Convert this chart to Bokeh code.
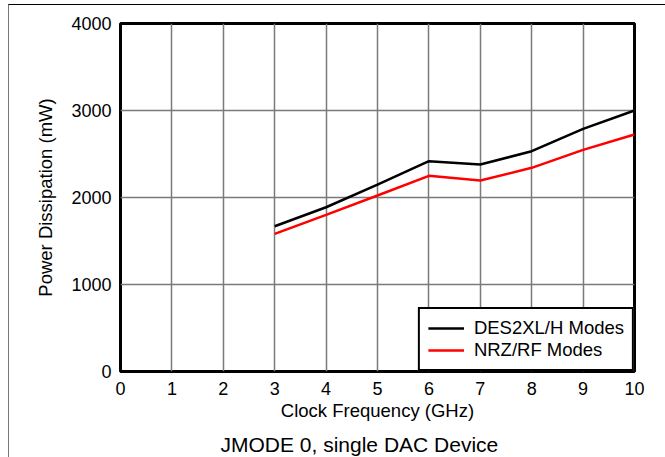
from bokeh.plotting import figure
from bokeh.models import Range1d, FixedTicker, Legend, LegendItem
from bokeh.embed import file_html
from bokeh.resources import INLINE

# Data
freq_ghz = [3, 4, 5, 6, 7, 8, 9, 10]
des2xl_h_mw = [1670, 1888, 2149, 2417, 2379, 2532, 2789, 3000]
nrz_rf_mw = [1582, 1801, 2023, 2249, 2195, 2341, 2548, 2724]
x_ticks = [0, 1, 2, 3, 4, 5, 6, 7, 8, 9, 10]
y_ticks = [0, 1000, 2000, 3000, 4000]

FONT = "Liberation Sans"

p = figure(
    width=656, height=452,
    frame_width=514, frame_height=348,
    x_range=Range1d(0, 10), y_range=Range1d(0, 4000),
    output_backend="svg", toolbar_location=None,
    min_border_left=111, min_border_right=31,
    min_border_top=18, min_border_bottom=86,
    title="JMODE 0, single DAC Device",
    title_location="below",
)
p.styles = {"border-top": "1px solid #000", "border-left": "1px solid #777",
            "margin-top": "4px", "margin-left": "8px"}

p.title.align = "left"
p.title.offset = 100
p.title.standoff = 15
p.title.text_font = FONT
p.title.text_font_size = "21px"
p.title.text_font_style = "normal"
p.title.text_color = "#000"

p.outline_line_color = "black"
p.outline_line_width = 3
p.outline_line_alpha = 1

for ax in (p.xaxis[0], p.yaxis[0]):
    ax.major_tick_in = 0
    ax.major_tick_out = 0
    ax.minor_tick_in = 0
    ax.minor_tick_out = 0
    ax.axis_line_color = None
    ax.major_label_text_font = FONT
    ax.major_label_text_font_size = "18px"
    ax.major_label_text_color = "#000"
    ax.axis_label_text_font = FONT
    ax.axis_label_text_font_size = "18.5px"
    ax.axis_label_text_font_style = "normal"
    ax.axis_label_text_color = "#000"

p.xaxis[0].ticker = FixedTicker(ticks=x_ticks)
p.yaxis[0].ticker = FixedTicker(ticks=y_ticks)
p.xaxis[0].axis_label = "Clock Frequency (GHz)"
p.yaxis[0].axis_label = "Power Dissipation (mW)"
p.xaxis[0].major_label_standoff = 10
p.yaxis[0].major_label_standoff = 9
p.xaxis[0].axis_label_standoff = 2
p.yaxis[0].axis_label_standoff = 12

p.xgrid[0].ticker = FixedTicker(ticks=x_ticks)
p.ygrid[0].ticker = FixedTicker(ticks=y_ticks)
for g in (p.xgrid[0], p.ygrid[0]):
    g.grid_line_color = "#7a7a7a"
    g.grid_line_width = 1.5
    g.grid_line_alpha = 1

r1 = p.line(freq_ghz, des2xl_h_mw, line_color="black", line_width=2.5)
r2 = p.line(freq_ghz, nrz_rf_mw, line_color="#ff0000", line_width=2.5)

legend = Legend(
    items=[LegendItem(label="DES2XL/H Modes", renderers=[r1]),
           LegendItem(label="NRZ/RF Modes", renderers=[r2])],
    location="bottom_right",
    margin=0,
    padding=8,
    spacing=0,
    glyph_width=36,
    glyph_height=22,
    label_standoff=10,
    label_height=22,
    label_text_font=FONT,
    label_text_font_size="18.5px",
    label_text_color="#000",
    border_line_color="black",
    border_line_width=2.5,
    border_line_alpha=1,
    background_fill_alpha=1,
)
p.add_layout(legend)

open("out.html", "w").write(file_html(p, INLINE))
